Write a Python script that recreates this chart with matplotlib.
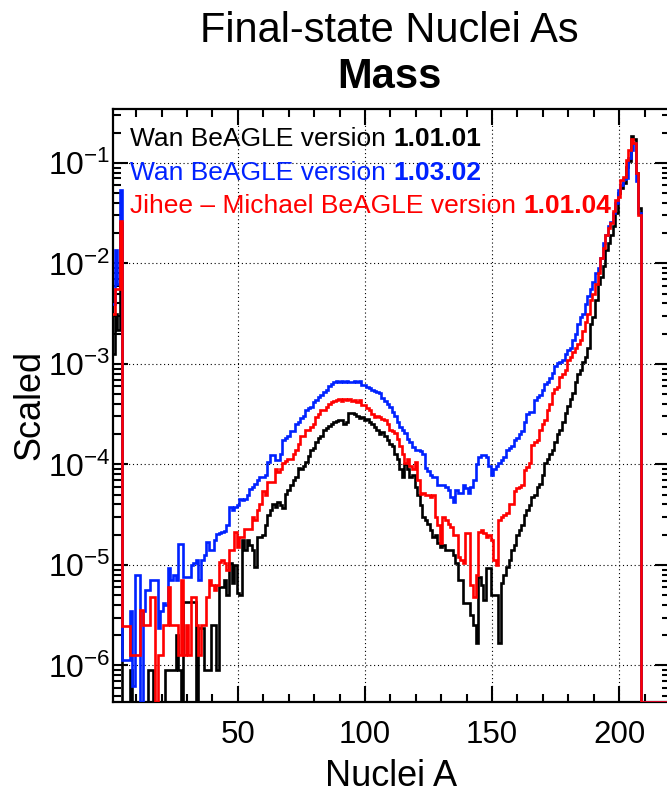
import numpy as np
import matplotlib
matplotlib.use("Agg")
import matplotlib.pyplot as plt
from matplotlib.ticker import FixedLocator, FuncFormatter, NullFormatter, MultipleLocator

plt.rcParams['font.family'] = ['Liberation Sans', 'DejaVu Sans']
plt.rcParams['mathtext.fontset'] = 'custom'
plt.rcParams['mathtext.rm'] = 'Liberation Sans'
plt.rcParams['mathtext.it'] = 'Liberation Sans:italic'
plt.rcParams['mathtext.bf'] = 'Liberation Sans:bold'

# ---------------- data: log10(Scaled) per mass number A = 1..208 (None = empty bin)
black_log10 = [
    -2.9, -2.5, -2.66, -1.6, None, None, None, -6.05, None, None,
    None, None, None, None, -6.05, -6.05, None, None, None, None,
    None, -6.05, -6.05, -6.05, -6.05, -5.7, -6.05, None, -5.37, -5.37,
    -5.37, -5.37, -5.37, None, -5.63, -5.63, -6.05, -6.05, -6.05, -5.6,
    -5.6, -6.05, -5.22, -5.22, -5.15, -5.3, -4.98, -5.18, -5.0, -5.28,
    -5.3, -4.75, -4.85, -4.75, -4.8, -4.85, -5.02, -4.72, -4.72, -4.7,
    -4.6, -4.5, -4.45, -4.39, -4.42, -4.37, -4.4, -4.43, -4.29, -4.25,
    -4.2, -4.15, -4.12, -4.04, -4.05, -4.02, -3.98, -3.92, -3.86, -3.84,
    -3.78, -3.74, -3.72, -3.66, -3.64, -3.62, -3.6, -3.58, -3.57, -3.56,
    -3.56, -3.6, -3.58, -3.49, -3.49, -3.5, -3.52, -3.54, -3.53, -3.56,
    -3.55, -3.58, -3.6, -3.63, -3.66, -3.7, -3.68, -3.72, -3.76, -3.8,
    -3.82, -3.9, -3.95, -4.05, -4.12, -4.0, -4.05, -4.12, -4.1, -4.22,
    -4.3, -4.4, -4.52, -4.55, -4.59, -4.65, -4.72, -4.7, -4.78, -4.82,
    -4.8, -4.85, -4.85, -4.85, -4.9, -4.98, -5.15, -5.15, -5.38, -5.38,
    -5.38, -5.5, -5.6, -5.78, -5.12, -5.2, -5.35, -5.03, -5.03, -5.3,
    -5.3, -5.3, -5.78, -5.18, -5.1, -5.02, -4.95, -4.85, -4.8, -4.7,
    -4.65, -4.6, -4.5, -4.45, -4.4, -4.32, -4.3, -4.22, -4.19, -4.1,
    -3.99, -3.95, -3.9, -3.86, -3.78, -3.7, -3.66, -3.58, -3.49, -3.42,
    -3.35, -3.29, -3.18, -3.1, -3.06, -2.98, -2.93, -2.84, -2.6, -2.53,
    -2.36, -2.2, -2.13, -2.03, -1.87, -1.8, -1.72, -1.63, -1.5, -1.3,
    -1.25, -1.2, -1.04, -0.98, -0.73, -0.76, -1.1, -1.45,
]

blue_log10 = [
    -2.4, -1.87, -2.2, -1.27, -5.95, -5.95, -5.95, -5.46, -6.2, -5.1,
    -5.1, None, -5.46, -5.25, -5.25, -5.15, -5.15, -5.15, -5.63, -5.46,
    -5.38, -5.4, -5.03, -5.15, -5.1, -5.15, -4.79, -4.79, -5.12, -5.12,
    -5.12, -5.0, -4.98, -4.95, -5.15, -4.95, -4.9, -4.77, -4.85, -4.85,
    -4.75, -4.69, -4.68, -4.67, -4.66, -4.6, -4.42, -4.45, -4.42, -4.4,
    -4.34, -4.35, -4.34, -4.3, -4.24, -4.22, -4.19, -4.15, -4.12, -4.12,
    -4.1, -3.98, -3.91, -3.91, -3.96, -3.96, -3.9, -3.76, -3.74, -3.72,
    -3.67, -3.67, -3.6, -3.58, -3.54, -3.52, -3.46, -3.44, -3.43, -3.38,
    -3.36, -3.33, -3.31, -3.28, -3.26, -3.22, -3.2, -3.18, -3.17, -3.18,
    -3.17, -3.18, -3.17, -3.18, -3.18, -3.17, -3.18, -3.17, -3.21, -3.21,
    -3.23, -3.24, -3.26, -3.27, -3.28, -3.29, -3.34, -3.37, -3.4, -3.43,
    -3.48, -3.52, -3.58, -3.63, -3.66, -3.69, -3.75, -3.78, -3.83, -3.86,
    -3.86, -3.87, -3.9, -4.04, -4.07, -4.1, -4.12, -4.12, -4.2, -4.2,
    -4.2, -4.22, -4.25, -4.32, -4.37, -4.25, -4.28, -4.28, -4.2, -4.23,
    -4.28, -4.22, -4.15, -4.0, -3.93, -3.91, -3.91, -3.93, -4.02, -4.1,
    -4.05, -4.02, -3.99, -3.96, -3.93, -3.86, -3.84, -3.82, -3.76, -3.74,
    -3.7, -3.67, -3.58, -3.5, -3.48, -3.48, -3.36, -3.33, -3.31, -3.26,
    -3.2, -3.18, -3.14, -3.09, -3.02, -2.99, -2.98, -2.96, -2.9, -2.86,
    -2.84, -2.76, -2.7, -2.6, -2.53, -2.5, -2.4, -2.32, -2.25, -2.18,
    -2.1, -2.05, -1.95, -1.8, -1.72, -1.63, -1.59, -1.5, -1.4, -1.27,
    -1.22, -1.16, -1.15, -0.95, -0.87, -0.8, -1.18, -1.5,
]

red_log10 = [
    -2.5, -2.25, -2.25, -1.58, -5.61, -5.61, -5.61, -5.9, -5.9, -5.9,
    -5.9, -5.45, -5.6, -5.6, -5.6, -5.32, -5.32, None, -5.9, -5.9,
    -5.6, -5.6, -5.22, -5.6, -5.6, -5.6, -5.9, -5.15, -5.9, -5.6,
    -5.9, -5.32, -5.32, -5.6, -5.9, -5.6, -5.6, -5.32, -5.15, -5.2,
    -5.25, -5.2, -4.97, -4.95, -4.98, -5.05, -4.85, -4.85, -4.67, -4.82,
    -4.72, -4.72, -4.64, -4.64, -4.64, -4.52, -4.55, -4.45, -4.39, -4.26,
    -4.3, -4.17, -4.17, -4.17, -4.05, -4.08, -4.05, -3.99, -3.97, -3.95,
    -3.95, -3.9, -3.86, -3.8, -3.72, -3.72, -3.66, -3.66, -3.63, -3.6,
    -3.53, -3.5, -3.46, -3.46, -3.43, -3.4, -3.38, -3.37, -3.36, -3.35,
    -3.37, -3.35, -3.36, -3.35, -3.37, -3.36, -3.38, -3.36, -3.41, -3.41,
    -3.44, -3.46, -3.5, -3.53, -3.52, -3.53, -3.55, -3.56, -3.6, -3.66,
    -3.67, -3.69, -3.75, -3.82, -3.9, -3.99, -3.95, -4.02, -4.05, -3.98,
    -4.15, -4.29, -4.28, -4.3, -4.3, -4.32, -4.3, -4.52, -4.6, -4.78,
    -4.52, -4.55, -4.59, -4.62, -4.7, -4.7, -4.92, -4.95, -4.98, -4.68,
    -4.68, -5.2, -5.32, -5.1, -4.67, -4.65, -4.68, -4.72, -4.7, -4.75,
    -4.95, -5.0, -4.55, -4.52, -4.5, -4.48, -4.39, -4.39, -4.26, -4.23,
    -4.22, -4.2, -4.06, -4.03, -3.99, -3.81, -3.78, -3.76, -3.66, -3.6,
    -3.56, -3.46, -3.4, -3.29, -3.25, -3.23, -3.13, -3.1, -3.06, -2.96,
    -2.93, -2.88, -2.84, -2.8, -2.76, -2.67, -2.58, -2.5, -2.36, -2.3,
    -2.2, -2.1, -1.95, -1.85, -1.72, -1.65, -1.6, -1.48, -1.37, -1.34,
    -1.17, -1.14, -0.97, -0.87, -0.76, -0.8, -1.1, -1.52,
]

series_labels = ["Wan BeAGLE version ", "Wan BeAGLE version ", "Jihee \u2013 Michael BeAGLE version "]
series_versions = ["1.01.01", "1.03.02", "1.01.04"]
series_colors = ["#000000", "#0022ff", "#ff0000"]

x_ticks = [50, 100, 150, 200]
y_ticks = [1e-6, 1e-5, 1e-4, 1e-3, 1e-2, 1e-1]

# ---------------- layout
W, H = 667, 796
fig = plt.figure(figsize=(W / 100, H / 100), dpi=100)
ax_l, ax_r, ax_t, ax_b = 113.3, 670.0, 109.0, 702.0
ax = fig.add_axes([ax_l / W, (H - ax_b) / H, (ax_r - ax_l) / W, (ax_b - ax_t) / H])

XMIN, XMAX = 1.0, 220.0
YMIN, YMAX = 4.33e-7, 0.344
n_hist_bins = 220
edges = np.arange(0.5, n_hist_bins + 1.5, 1.0)


def to_bins(logs):
    vals = [YMIN if v is None else 10.0 ** v for v in logs]
    vals += [YMIN] * (n_hist_bins - len(vals))
    return np.array(vals)


for logs, col in zip([black_log10, blue_log10, red_log10], series_colors):
    ax.stairs(to_bins(logs), edges, baseline=None, color=col, linewidth=1.9, zorder=3)

ax.set_yscale('log')
ax.set_xlim(XMIN, XMAX)
ax.set_ylim(YMIN, YMAX)

ax.xaxis.set_major_locator(FixedLocator(x_ticks))
ax.xaxis.set_minor_locator(MultipleLocator(10))
ax.yaxis.set_major_locator(FixedLocator(y_ticks))
minor_y = [m * 10.0 ** e for e in range(-7, 0) for m in range(2, 10)]
ax.yaxis.set_minor_locator(FixedLocator(minor_y))
ax.yaxis.set_minor_formatter(NullFormatter())


def yfmt(v, pos):
    e = int(round(np.log10(v)))
    return r'$10^{%d}$' % e


ax.yaxis.set_major_formatter(FuncFormatter(yfmt))

ax.tick_params(which='both', direction='in', top=True, right=True, width=1.5, colors='black')
ax.tick_params(axis='x', which='major', length=11.5, labelsize=22.5, pad=13)
ax.tick_params(axis='x', which='minor', length=6)
ax.tick_params(axis='y', which='major', length=11, labelsize=23, pad=2)
ax.tick_params(axis='y', which='minor', length=6)
for s in ax.spines.values():
    s.set_linewidth(1.6)

ax.grid(True, which='major', color='black', linestyle=(0, (1, 2.5)), linewidth=0.8, zorder=1)
ax.set_axisbelow(True)

ax.set_xlabel('Nuclei A', fontsize=26)
ax.xaxis.set_label_coords((391 - ax_l) / (ax_r - ax_l), -(776 - ax_b) / (ax_b - ax_t), transform=ax.transAxes)
ax.set_ylabel('Scaled', fontsize=26)
ax.yaxis.set_label_coords(-(ax_l - 30) / (ax_r - ax_l), (ax_b - 405) / (ax_b - ax_t), transform=ax.transAxes)
ax.xaxis.label.set_va('center')
ax.yaxis.label.set_va('center')

# titles
fig.text(389 / W, 1 - 42 / H, 'Final-state Nuclei As', ha='center', va='baseline', fontsize=30)
fig.text(389 / W, 1 - 88 / H, 'Mass', ha='center', va='baseline', fontsize=30, fontweight='bold')

# legend text
fig.canvas.draw()
renderer = fig.canvas.get_renderer()
leg_fs = 19
space_px = 0.278 * leg_fs * 100 / 72
for i, (lab, ver, col) in enumerate(zip(series_labels, series_versions, series_colors)):
    yb = 1 - (146 + 33.5 * i) / H
    t = fig.text(130 / W, yb, lab.rstrip(), ha='left', va='baseline', fontsize=leg_fs, color=col)
    bb = t.get_window_extent(renderer=renderer)
    fig.text((bb.x1 + space_px) / W, yb, ver, ha='left', va='baseline', fontsize=leg_fs,
             fontweight='bold', color=col)

fig.savefig('out.png', dpi=100)
